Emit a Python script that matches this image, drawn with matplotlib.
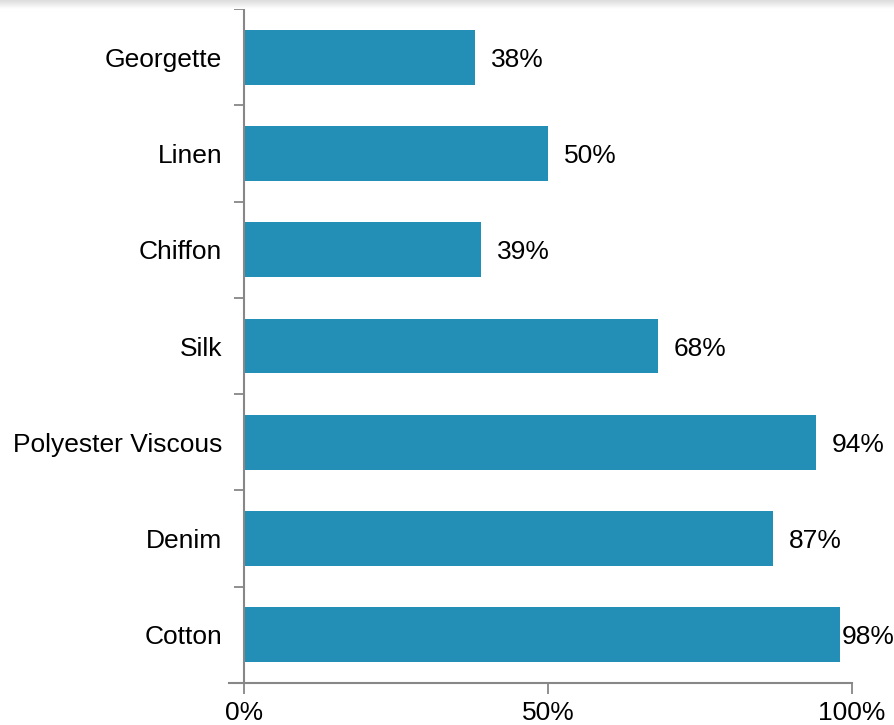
import numpy as np
import matplotlib.pyplot as plt
from matplotlib.ticker import FixedLocator, NullFormatter

plt.rcParams['font.family'] = ['Liberation Sans', 'DejaVu Sans']

fabrics = ['Georgette', 'Linen', 'Chiffon', 'Silk', 'Polyester Viscous', 'Denim', 'Cotton']
shares = [38, 50, 39, 68, 94, 87, 98]
xticks = [0, 50, 100]

bar_color = '#238fb6'
axis_color = '#878787'
fsize = 19

fig = plt.figure(figsize=(8.95, 7.25), dpi=100)
ax = fig.add_axes([244.5 / 895, 42 / 725, (852 - 244.5) / 895, (716 - 42) / 725])

# faint shadow band along the top edge
shade = fig.add_axes([0, 1 - 9 / 725, 1, 9 / 725])
grad = np.linspace(0.86, 1.0, 30).reshape(-1, 1)
shade.imshow(grad, cmap='gray', vmin=0, vmax=1, aspect='auto', extent=[0, 1, 0, 1], origin='upper')
shade.axis('off')

n = len(fabrics)
ypos = np.arange(n)[::-1]
ax.barh(ypos, shares, height=0.57, color=bar_color, zorder=2)

for y, v in zip(ypos, shares):
    x = min(v + 2.6, 98.3)
    ax.text(x, y, f'{v}%', va='center_baseline', ha='left', fontsize=fsize, color='black', clip_on=False)

ax.set_xlim(0, 100)
ax.set_ylim(-0.5, n - 0.5)

ax.set_yticks(ypos)
ax.set_yticklabels(fabrics, fontsize=fsize)
ax.tick_params(axis='y', length=0, pad=16)
ax.yaxis.set_minor_locator(FixedLocator(np.arange(n + 1) - 0.5))
ax.yaxis.set_minor_formatter(NullFormatter())
ax.tick_params(axis='y', which='minor', length=7, width=1.3, color=axis_color, direction='out')

ax.set_xticks(xticks)
ax.set_xticklabels([f'{t}%' for t in xticks], fontsize=fsize)
ax.tick_params(axis='x', length=8, width=1.3, color=axis_color, direction='out', pad=5)

for side in ['top', 'right']:
    ax.spines[side].set_visible(False)
for side in ['left', 'bottom']:
    ax.spines[side].set_color(axis_color)
    ax.spines[side].set_linewidth(1.5)
ax.spines['bottom'].set_bounds(-2.5, 100)

fig.savefig('out.png', dpi=100)
